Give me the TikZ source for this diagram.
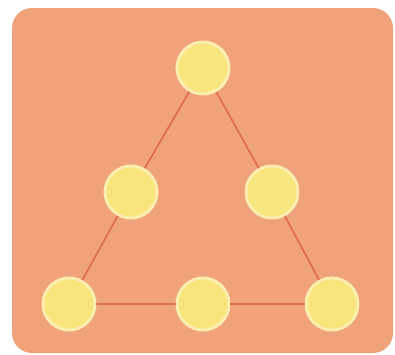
\documentclass[tikz,border=0pt]{standalone}
\usepackage{tikz}
\definecolor{panel}{RGB}{240,162,122}
\definecolor{edge}{RGB}{222,110,78}
\definecolor{bead}{RGB}{248,230,125}
\definecolor{rim}{RGB}{252,238,175}

\begin{document}
\begin{tikzpicture}[x=0.75pt,y=-0.75pt,
  bead/.style={circle,minimum size=39pt,inner sep=0pt,fill=bead,draw=rim,line width=2.2pt},
  link/.style={edge,line width=1.3pt}]
\useasboundingbox (0,0) rectangle (395,354);
\fill[white] (0,0) rectangle (395,354);
\fill[panel,rounded corners=15pt] (12,8) rectangle (393,353);

\node[bead] (T) at (203,68) {};
\node[bead] (L) at (131,192) {};
\node[bead] (R) at (272,192) {};
\node[bead] (BL) at (69,304) {};
\node[bead] (BM) at (203,304) {};
\node[bead] (BR) at (332,304) {};

\draw[link] (T)--(L);
\draw[link] (L)--(BL);
\draw[link] (T)--(R);
\draw[link] (R)--(BR);
\draw[link] (BL)--(BM);
\draw[link] (BM)--(BR);
\end{tikzpicture}
\end{document}
